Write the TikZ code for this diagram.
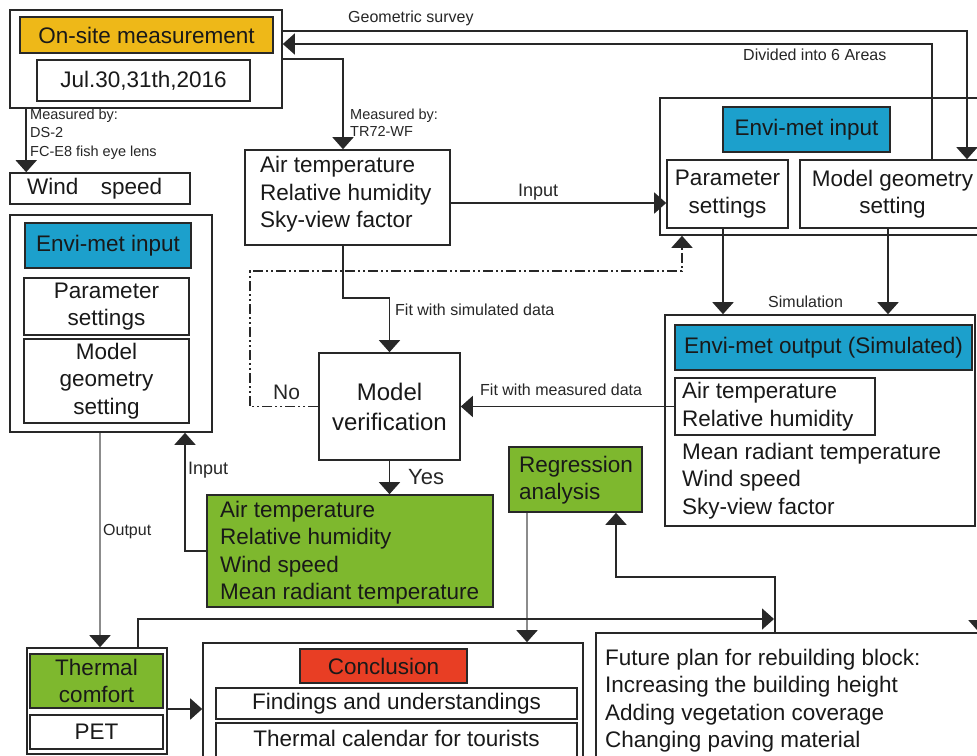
\documentclass[tikz,border=0pt]{standalone}
\usepackage{fontspec}
\setmainfont{Liberation Sans}
\usetikzlibrary{arrows.meta}
\definecolor{cyel}{RGB}{238,184,24}
\definecolor{cblue}{RGB}{28,160,204}
\definecolor{cgreen}{RGB}{126,184,46}
\definecolor{cred}{RGB}{232,62,36}
\definecolor{cline}{RGB}{40,40,40}
\definecolor{cgray}{RGB}{140,140,140}
\newcommand\mainf{\fontsize{22.5}{27.5}\selectfont}
\begin{document}
\begin{tikzpicture}[x=1pt,y=-1pt,
  box/.style={draw=cline, line width=1.6pt, inner sep=0pt, text=black!90, align=center, font=\mainf},
  txt/.style={anchor=west, inner sep=0pt, align=left, font=\mainf, text=black!90},
  lbl/.style={anchor=west, inner sep=0pt, align=left, font=\fontsize{16}{19}\selectfont, text=black!85},
  slbl/.style={anchor=west, inner sep=0pt, align=left, font=\fontsize{14.5}{18.5}\selectfont, text=black!85},
  arr/.style={line width=1.6pt, draw=cline, -{Triangle[length=12pt,width=21pt]}},
  arrg/.style={line width=1.6pt, draw=cgray, -{Triangle[length=12pt,width=21pt,color=cline]}},
  dd/.style={dash pattern=on 10pt off 3pt on 2pt off 3pt on 2pt off 3pt}]
\fill[white] (0,0) rectangle (977,755);
\useasboundingbox (0,0) rectangle (977,755);
\clip (0,0) rectangle (977,755);

% top-left
\node[box,minimum width=272pt,minimum height=98pt] (onsiteout) at (146,59) {};
\node[box,fill=cyel,minimum width=253pt,minimum height=36pt] (onsite) at (146.5,35) {On-site measurement};
\node[box,minimum width=213pt,minimum height=41pt] (jul) at (143.5,80.5) {Jul.30,31th,2016};
\node[box,minimum width=180pt,minimum height=31pt] (wind) at (100,188.5) {};
\node[txt] (windt) at (27,188.5) {Wind\hspace{1em}speed};

% air temperature
\node[box,minimum width=205pt,minimum height=95pt] (airtemp) at (347.5,197.5) {};
\node[txt] (airtempt) at (260,194.5) {Air temperature\\Relative humidity\\Sky-view factor};

% top-right envi-met input
\node[box,minimum width=330pt,minimum height=137pt] (envinTR) at (825,166.5) {};
\node[box,fill=cblue,minimum width=167pt,minimum height=45pt] (envinTRh) at (806.5,129.5) {Envi-met input};
\node[box,minimum width=121pt,minimum height=68pt] (paramTR) at (727.5,194) {Parameter\\settings};
\node[box,minimum width=185pt,minimum height=68pt] (mgeoTR) at (892.5,194) {Model geometry\\setting};

% left envi-met input
\node[box,minimum width=202pt,minimum height=217pt] (envinL) at (111,323.5) {};
\node[box,fill=cblue,minimum width=166pt,minimum height=45pt] (envinLh) at (108,245.5) {Envi-met input};
\node[box,minimum width=165pt,minimum height=57pt] (paramL) at (106.5,306.5) {Parameter\\settings};
\node[box,minimum width=165pt,minimum height=84pt] (mgeoL) at (106.5,381) {Model\\geometry\\setting};

% model verification
\node[box,minimum width=141pt,minimum height=107pt,font=\fontsize{24}{30}\selectfont] (modelver) at (389.5,406.5) {Model\\verification};

% envi-met output
\node[box,minimum width=310pt,minimum height=211pt] (envout) at (820,420.5) {};
\node[box,fill=cblue,minimum width=297pt,minimum height=45pt] (envouth) at (823.5,347.5) {Envi-met output (Simulated)};
\node[box,minimum width=200pt,minimum height=57pt] (envoutin) at (775,406.5) {};
\node[txt] (envoutint) at (682,406.5) {Air temperature\\Relative humidity};
\node[txt] (envoutrest) at (682,481) {Mean radiant temperature\\Wind speed\\Sky-view factor};

% results
\node[box,fill=cgreen,minimum width=286pt,minimum height=112pt] (results) at (350,551) {};
\node[txt] (resultst) at (220,552.5) {Air temperature\\Relative humidity\\Wind speed\\Mean radiant temperature};

% regression
\node[box,fill=cgreen,minimum width=133pt,minimum height=65pt] (regr) at (575.5,479.5) {};
\node[txt] (regrt) at (519,480) {Regression\\analysis};

% thermal comfort
\node[box,minimum width=140pt,minimum height=106pt] (thermal) at (97,701) {};
\node[box,fill=cgreen,minimum width=133pt,minimum height=54pt] (thermalh) at (96.5,681) {Thermal\\comfort};
\node[box,minimum width=133pt,minimum height=34pt] (pet) at (96.5,732) {PET};

% conclusion
\node[box,minimum width=380pt,minimum height=130pt] (concl) at (393,708) {};
\node[box,fill=cred,minimum width=167pt,minimum height=34pt] (conclh) at (383.5,666) {Conclusion};
\node[box,minimum width=361pt,minimum height=31pt] (findings) at (396.5,703.5) {Findings and understandings};
\node[box,minimum width=361pt,minimum height=45pt] (calendar) at (396.5,745.5) {};
\node[txt,anchor=center] (calendart) at (396.5,738) {Thermal calendar for tourists};

% future plan
\node[box,minimum width=394pt,minimum height=135pt] (future) at (793,700.5) {};
\node[txt] (futuret) at (605,700.5) {Future plan for rebuilding block:\\Increasing the building height\\Adding vegetation coverage\\Changing paving material};

% labels
\node[lbl] (lgs) at (348,18) {Geometric survey};
\node[lbl] (ldiv) at (743,55) {Divided into 6 Areas};
\node[lbl,font=\fontsize{18}{20}\selectfont] (linp1) at (518,192) {Input};
\node[lbl] (lfs) at (395,310) {Fit with simulated data};
\node[lbl] (lfm) at (480,390) {Fit with measured data};
\node[lbl] (lsim) at (768,302) {Simulation};
\node[lbl,font=\fontsize{21}{24}\selectfont] (lno) at (273,392) {No};
\node[lbl,font=\fontsize{22}{24}\selectfont] (lyes) at (408,477) {Yes};
\node[lbl,font=\fontsize{18}{20}\selectfont] (linp2) at (188,470) {Input};
\node[lbl] (lout) at (103,532) {Output};
\node[slbl] (lm1) at (30,134) {Measured by:\\DS-2\\FC-E8 fish eye lens};
\node[slbl,font=\fontsize{14.5}{17}\selectfont] (lm2) at (350,123) {Measured by:\\TR72-WF};

% connectors
\draw[arr] ([xshift=17pt]onsiteout.south west) -- ([xshift=17pt]wind.north west);
\draw[arr] (onsiteout.east) -| ([xshift=-4.5pt]airtemp.north);
\draw[arr] ([yshift=28pt]onsiteout.east) -| ([xshift=74.5pt]mgeoTR.north);
\draw[arr] ([xshift=39.5pt]mgeoTR.north) |- ([yshift=15pt]onsiteout.east);

\path ([yshift=-5.5pt]airtemp.east) coordinate (ip);
\draw[arr] (ip) -- (ip -| paramTR.west);

\path ([xshift=-4.5pt]paramTR.south) coordinate (s1) ([xshift=-4.5pt]mgeoTR.south) coordinate (s2);
\draw[arr] (s1) -- (s1 |- envout.north);
\draw[arr] (s2) -- (s2 |- envout.north);

\coordinate (ddc) at (250,271);
\path ([xshift=-143pt]envinTR.south) coordinate (dde);
\draw[arr,dd] (modelver.west) -| (ddc) -| (dde);

\path ([xshift=-4.5pt]airtemp.south) coordinate (fs0);
\coordinate (fs1) at (389.5,298);
\draw[arr] (fs0) |- (fs1) -- (modelver.north);

\draw[arr] (envoutin.west) -- (modelver.east);
\draw[arr] (modelver.south) -- (modelver.south |- results.north);
\draw[arr] (results.west) -| ([xshift=74pt]envinL.south);

\path ([xshift=-11pt]envinL.south) coordinate (o1);
\draw[arrg] (o1) -- (o1 |- thermal.north);

\path ([yshift=-8pt]thermal.east) coordinate (t1);
\draw[arr] (t1) -- (t1 -| concl.west);

\path ([xshift=-48.5pt]regr.south) coordinate (r1);
\draw[arrg] (r1) -- (r1 |- concl.north);

\path ([xshift=-18pt]future.north) coordinate (f1) ([xshift=40.5pt]regr.south) coordinate (f2);
\coordinate (fr) at (616,577);
\draw[arr] (f1) |- (fr) -- (f2);

\path ([xshift=41pt]thermal.north) coordinate (tc1);
\coordinate (tce) at (774,619);
\draw[arr] (tc1) |- (tce);

\coordinate (re) at (979,545);
\draw[arr] (re) -- (re |- future.north);
\end{tikzpicture}
\end{document}
